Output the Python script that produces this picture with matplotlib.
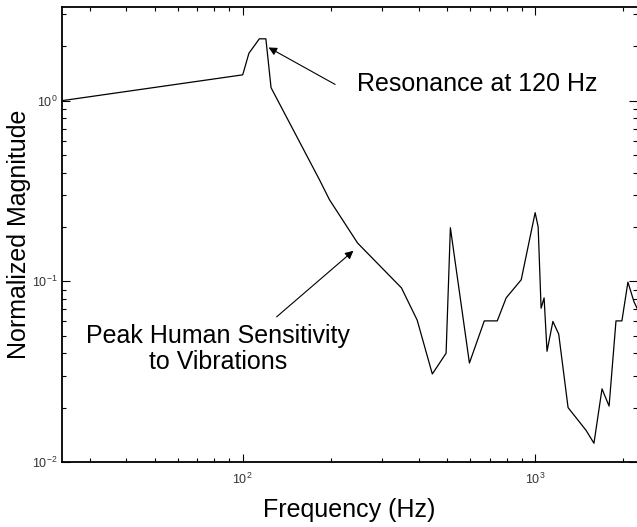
import numpy as np
import matplotlib
matplotlib.use("Agg")
import matplotlib.pyplot as plt

plt.rcParams["font.family"] = ["Liberation Sans", "DejaVu Sans"]
plt.rcParams["mathtext.fontset"] = "custom"
plt.rcParams["mathtext.rm"] = "Liberation Sans"
plt.rcParams["mathtext.it"] = "Liberation Sans:italic"

# frequency response
freq = [24.1, 100, 105, 114, 120, 125, 183, 198, 247, 349, 395, 445, 496, 513,
        596, 670, 742, 796, 896, 1000, 1024, 1048, 1073, 1098, 1150, 1204,
        1296, 1492, 1589, 1693, 1790, 1890, 1980, 2076, 2178, 2260]
magnitude = [1.0, 1.39, 1.83, 2.2, 2.2, 1.18, 0.365, 0.283, 0.163, 0.092, 0.061,
             0.0307, 0.040, 0.198, 0.0353, 0.0604, 0.0604, 0.081, 0.102, 0.24,
             0.20, 0.071, 0.081, 0.041, 0.060, 0.051, 0.020, 0.015, 0.0127,
             0.0254, 0.0204, 0.0604, 0.0604, 0.099, 0.077, 0.068]

fig = plt.figure(figsize=(6.37, 5.27), dpi=100)
ax = fig.add_axes([62 / 637, 65 / 527, 575 / 637, 455 / 527])

ax.loglog(freq, magnitude, color="black", lw=0.9)
ax.set_xlim(24.1, 2230)
ax.set_ylim(0.01, 3.3)

ax.tick_params(which="both", direction="in", top=True, right=True,
               labelsize=9, labelcolor="#333333", width=0.8)
ax.tick_params(which="major", length=6, pad=7)
ax.tick_params(which="minor", length=3)
ax.tick_params(axis="y", which="major", pad=3)
for s in ax.spines.values():
    s.set_linewidth(1.3)
ax.spines["right"].set_visible(False)

ax.set_xlabel("Frequency (Hz)", fontsize=18, labelpad=8)
ax.set_ylabel("Normalized Magnitude", fontsize=18)
ax.yaxis.set_label_coords(-0.054, 0.5)

arrow = dict(arrowstyle="-|>", color="black", lw=0.8, mutation_scale=12,
             shrinkA=0, shrinkB=0)
ax.annotate("", xy=(122.6, 1.97), xytext=(207, 1.23), arrowprops=arrow)
ax.text(245, 1.23, "Resonance at 120 Hz", fontsize=18, ha="left", va="center")

ax.annotate("", xy=(239, 0.1476), xytext=(130.6, 0.0636), arrowprops=arrow)
ax.text(82.2, 0.0423, "Peak Human Sensitivity\nto Vibrations", fontsize=18,
        ha="center", va="center", multialignment="center", linespacing=1.1)

fig.savefig("out.png", dpi=100)
